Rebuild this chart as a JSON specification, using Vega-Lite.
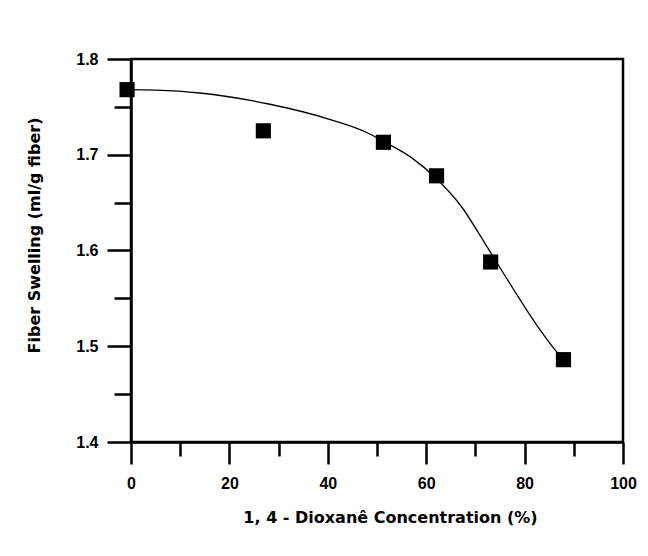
{
  "$schema": "https://vega.github.io/schema/vega-lite/v6.json",
  "width": 492,
  "height": 383,
  "autosize": {"type": "none"},
  "padding": {"left": 131, "top": 59, "right": 25, "bottom": 114},
  "background": "white",
  "datasets": {
    "curve": [
      {"conc": -0.8, "swelling": 1.768},
      {"conc": 5, "swelling": 1.7675},
      {"conc": 14, "swelling": 1.7645},
      {"conc": 28, "swelling": 1.753},
      {"conc": 41, "swelling": 1.736},
      {"conc": 48, "swelling": 1.723},
      {"conc": 51.3, "swelling": 1.714},
      {"conc": 57, "swelling": 1.697},
      {"conc": 62.1, "swelling": 1.675},
      {"conc": 67, "swelling": 1.647},
      {"conc": 72, "swelling": 1.607},
      {"conc": 77.8, "swelling": 1.559},
      {"conc": 82.6, "swelling": 1.521},
      {"conc": 86.7, "swelling": 1.493},
      {"conc": 87.9, "swelling": 1.486}
    ],
    "points": [
      {"conc": -0.8, "swelling": 1.768},
      {"conc": 26.9, "swelling": 1.725},
      {"conc": 51.3, "swelling": 1.713},
      {"conc": 62.1, "swelling": 1.678},
      {"conc": 73.1, "swelling": 1.588},
      {"conc": 87.9, "swelling": 1.486}
    ]
  },
  "layer": [
    {
      "data": {"name": "curve"},
      "mark": {"type": "line", "interpolate": "monotone", "color": "black", "strokeWidth": 1.3},
      "encoding": {
        "x": {
          "field": "conc", "type": "quantitative",
          "scale": {"domain": [0, 100], "nice": false, "zero": false},
          "axis": {
            "orient": "bottom",
            "values": [0, 20, 40, 60, 80, 100],
            "tickSize": 22,
            "labelPadding": 11,
            "title": "1, 4 - Dioxanê Concentration (%)",
            "titleX": 259,
            "titleY": 80,
            "titleBaseline": "alphabetic"
          }
        },
        "y": {
          "field": "swelling", "type": "quantitative",
          "scale": {"domain": [1.4, 1.8], "nice": false, "zero": false},
          "axis": {
            "orient": "left",
            "values": [1.4, 1.5, 1.6, 1.7, 1.8],
            "format": ".1f",
            "tickSize": 24,
            "labelPadding": 9,
            "title": "Fiber Swelling (ml/g fiber)",
            "titleX": -92,
            "titleY": 176,
            "titleBaseline": "alphabetic"
          }
        }
      }
    },
    {
      "data": {"name": "points"},
      "mark": {"type": "point", "shape": "square", "filled": true, "color": "black", "opacity": 1, "size": 230},
      "encoding": {
        "x": {"field": "conc", "type": "quantitative", "axis": null},
        "y": {"field": "swelling", "type": "quantitative", "axis": null}
      }
    },
    {
      "data": {"name": "points"},
      "mark": {"type": "point", "opacity": 0},
      "encoding": {
        "x": {
          "field": "conc", "type": "quantitative",
          "axis": {"orient": "bottom", "values": [10, 30, 50, 70, 90], "tickSize": 14, "labels": false, "domain": false, "title": null}
        },
        "y": {
          "field": "swelling", "type": "quantitative",
          "axis": {"orient": "left", "values": [1.45, 1.55, 1.65, 1.75], "tickSize": 17, "labels": false, "domain": false, "title": null}
        }
      }
    }
  ],
  "resolve": {"axis": {"x": "independent", "y": "independent"}},
  "config": {
    "view": {"stroke": "black", "strokeWidth": 2.5},
    "axis": {
      "grid": false,
      "domainColor": "black",
      "domainWidth": 2.5,
      "tickColor": "black",
      "tickWidth": 2.5,
      "labelFont": "Liberation Sans",
      "labelFontWeight": "bold",
      "labelFontSize": 16,
      "labelColor": "black",
      "labelOverlap": false,
      "labelFlush": false,
      "titleFont": "DejaVu Sans",
      "titleFontWeight": "bold",
      "titleFontSize": 16,
      "titleColor": "black"
    }
  }
}
